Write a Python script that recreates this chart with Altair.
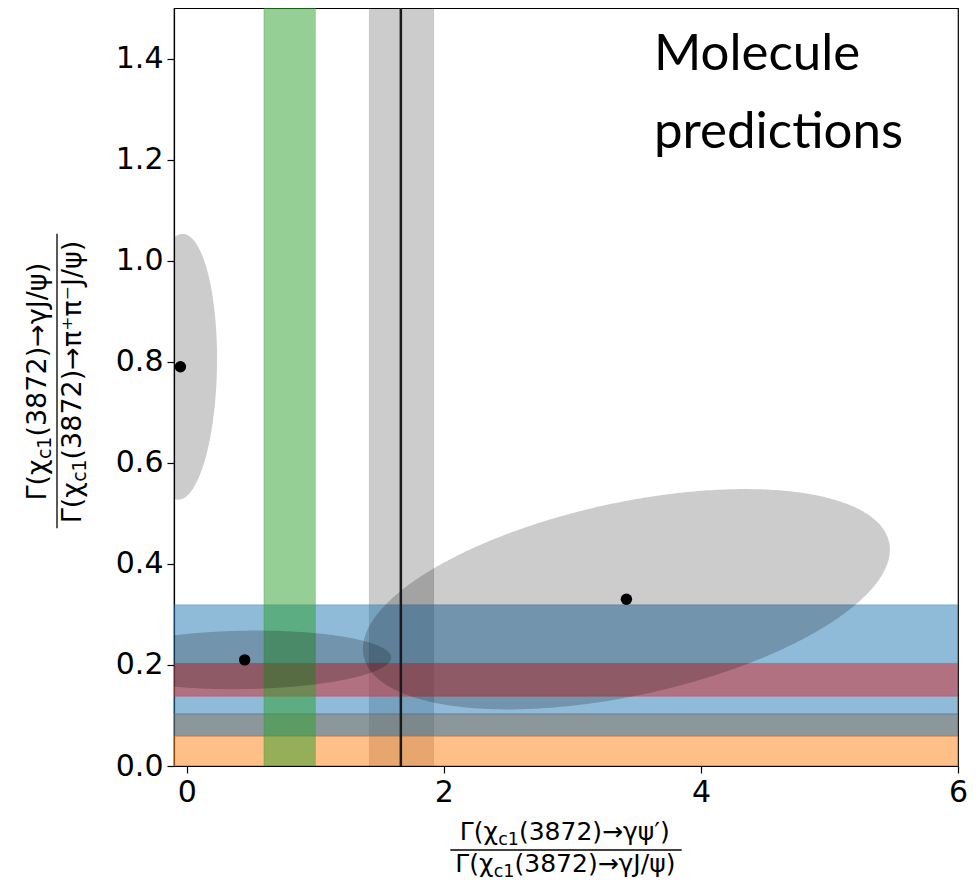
import altair as alt
import numpy as np
import pandas as pd

# ---------------- data ----------------
hband_names = ["blue", "red", "gray", "orange"]
hband_lo = [0.103, 0.138, 0.059, 0.0]
hband_hi = [0.319, 0.203, 0.103, 0.059]

vband_names = ["gray", "green"]
vband_lo = [1.42, 0.60]
vband_hi = [1.92, 1.00]

measured_x = [1.665]

ell_names = ["A", "B", "C"]
ell_cx = [-0.05, 0.45, 3.42]
ell_cy = [0.79, 0.21, 0.33]
ell_wx = [0.285, 1.14, 2.05]
ell_hy = [0.263, 0.058, 0.218]
ell_rho = [0.06, 0.08, 0.45]

x_ticks = [0, 2, 4, 6]
y_ticks = [0.0, 0.2, 0.4, 0.6, 0.8, 1.0, 1.2, 1.4]

note_lines = ["Molecule", "predictions"]
x_num = [("Γ(χ", False), ("c1", True), ("(3872)→γψ′)", False)]
x_den = [("Γ(χ", False), ("c1", True), ("(3872)→γJ/ψ)", False)]
y_num = [("Γ(χ", False), ("c1", True), ("(3872)→γJ/ψ)", False)]
y_den = [("Γ(χ", False), ("c1", True), ("(3872)→π⁺π⁻J/ψ)", False)]

# ---------------- layout / style ----------------
W, H = 784, 758
XDOM = [-0.1, 6.0]
YDOM = [0.0, 1.5]
FONT = "DejaVu Sans"
FS_XLABEL = 25
FS_YLABEL = 27

band_style = {
    "blue": dict(color="#1f77b4", opacity=0.5),
    "red": dict(color="#d62728", opacity=0.5),
    "gray": dict(color="#5b6b71", opacity=0.7),
    "orange": dict(color="#ff7f0e", opacity=0.5),
}
vband_style = {
    "gray": dict(color="black", opacity=0.2),
    "green": dict(color="#2ca02c", opacity=0.5),
}

xs = alt.Scale(domain=XDOM, nice=False, zero=False)
ys = alt.Scale(domain=YDOM, nice=False, zero=False)
xaxis = alt.Axis(values=x_ticks, format="d", title=None, grid=False, labelFlush=False)
yaxis = alt.Axis(values=y_ticks, format=".1f", title=None, grid=False, labelFlush=False)

hb = pd.DataFrame({"name": hband_names, "lo": hband_lo, "hi": hband_hi})
vb = pd.DataFrame({"name": vband_names, "lo": vband_lo, "hi": vband_hi})


def vband_layer(name):
    st = vband_style[name]
    return alt.Chart(vb[vb.name == name]).mark_rect(
        fill=st["color"], fillOpacity=st["opacity"],
        stroke=st["color"], strokeOpacity=st["opacity"] * 0.6, strokeWidth=1,
        clip=True,
    ).encode(
        x=alt.X("lo:Q", scale=xs, axis=xaxis), x2="hi:Q",
        y=alt.value(0), y2=alt.value(H)
    )


def hband_layer(name):
    st = band_style[name]
    return alt.Chart(hb[hb.name == name]).mark_rect(
        fill=st["color"], fillOpacity=st["opacity"],
        stroke=st["color"], strokeOpacity=st["opacity"] * 0.6, strokeWidth=1,
        clip=True,
    ).encode(
        y=alt.Y("lo:Q", scale=ys, axis=yaxis), y2="hi:Q",
        x=alt.value(0), x2=alt.value(W)
    )


# ellipse outlines from their parameters
rows = []
t = np.linspace(0, np.pi, 241)
for n, cx, cy, wx, hy, r in zip(ell_names, ell_cx, ell_cy, ell_wx, ell_hy, ell_rho):
    c = np.cos(t)
    s = np.sin(t)
    for ci, si in zip(c, s):
        rows.append({
            "id": n,
            "x": cx + wx * ci,
            "upper": cy + hy * (r * ci + np.sqrt(1 - r * r) * si),
            "lower": cy + hy * (r * ci - np.sqrt(1 - r * r) * si),
        })
ell_df = pd.DataFrame(rows)

ellipses = alt.Chart(ell_df).mark_area(color="black", opacity=0.2, clip=True).encode(
    x=alt.X("x:Q", scale=xs, axis=xaxis),
    y=alt.Y("upper:Q", scale=ys, axis=yaxis),
    y2="lower:Q",
    detail="id:N",
)

pts = pd.DataFrame({"x": ell_cx, "y": ell_cy})
dots = alt.Chart(pts).mark_circle(color="black", size=130, opacity=1).encode(
    x=alt.X("x:Q", scale=xs, axis=xaxis),
    y=alt.Y("y:Q", scale=ys, axis=yaxis),
)

line = alt.Chart(pd.DataFrame({"x": measured_x})).mark_rule(
    color="#1a1a1a", strokeWidth=2.5
).encode(x=alt.X("x:Q", scale=xs, axis=xaxis))

one = pd.DataFrame({"k": [0]})

WID = {"Γ": 0.557, "(": 0.39, ")": 0.39, "χ": 0.59, "c": 0.55, "→": 0.838,
       "γ": 0.592, "ψ": 0.711, "′": 0.275, "J": 0.295, "/": 0.337, "π": 0.602,
       "⁺": 0.54, "⁻": 0.54}


def twidth(s, fs):
    return sum(WID.get(ch, 0.636) for ch in s) * fs


def piece_width(pieces, fs):
    return sum(twidth(tx, fs * (0.7 if sub else 1.0)) for tx, sub in pieces)


def text_run(pieces, fs, center_along, base_across, rotated):
    total = piece_width(pieces, fs)
    layers = []
    off = 0.0
    for tx, sub in pieces:
        f = fs * 0.7 if sub else fs
        shift = fs * 0.18 if sub else 0.0
        if rotated:
            px = base_across + shift
            py = center_along + total / 2 - off
            ang = 270
        else:
            px = center_along - total / 2 + off
            py = base_across + shift
            ang = 0
        layers.append(
            alt.Chart(one).mark_text(
                text=tx, fontSize=f, font=FONT, align="left",
                baseline="alphabetic", angle=ang, color="black"
            ).encode(x=alt.value(px), y=alt.value(py))
        )
        off += twidth(tx, f)
    return layers, total


labels = []
# x-axis fraction
l1, w1 = text_run(x_num, FS_XLABEL, W / 2, 832, False)
l2, w2 = text_run(x_den, FS_XLABEL, W / 2, 864, False)
labels += l1 + l2
bw = max(w1, w2) + 10
labels.append(alt.Chart(one).mark_rule(color="black", strokeWidth=1.3).encode(
    x=alt.value(W / 2 - bw / 2), x2=alt.value(W / 2 + bw / 2), y=alt.value(842)))
# y-axis fraction
YC = H / 2 - 6
l3, w3 = text_run(y_num, FS_YLABEL, YC, -128, True)
l4, w4 = text_run(y_den, FS_YLABEL, YC, -93, True)
labels += l3 + l4
bh = max(w3, w4) + 10
labels.append(alt.Chart(one).mark_rule(color="black", strokeWidth=1.3).encode(
    y=alt.value(YC - bh / 2), y2=alt.value(YC + bh / 2), x=alt.value(-117)))

note = [
    alt.Chart(one).mark_text(text=note_lines[0], fontSize=51, font="Lato",
                             align="left", baseline="alphabetic", color="black"
                             ).encode(x=alt.value(480), y=alt.value(62)),
    alt.Chart(one).mark_text(text=note_lines[1], fontSize=51, font="Lato",
                             align="left", baseline="alphabetic", color="black"
                             ).encode(x=alt.value(480), y=alt.value(140)),
]

chart = alt.layer(
    vband_layer("gray"),
    hband_layer("blue"),
    hband_layer("red"),
    hband_layer("gray"),
    hband_layer("orange"),
    vband_layer("green"),
    ellipses,
    dots,
    line,
    *labels,
    *note,
).properties(
    width=W, height=H,
    autosize=alt.AutoSizeParams(type="none"),
    padding={"left": 166, "top": 0, "right": 13, "bottom": 116},
).configure_axis(
    labelFont=FONT, labelFontSize=30, labelColor="black",
    tickColor="black", domainColor="black", tickSize=7, labelPadding=4,
    domainWidth=1.2, tickWidth=1.2,
).configure_view(stroke="black", strokeWidth=1.2)

chart.save("out.html", embed_options={"renderer": "svg", "actions": False})
